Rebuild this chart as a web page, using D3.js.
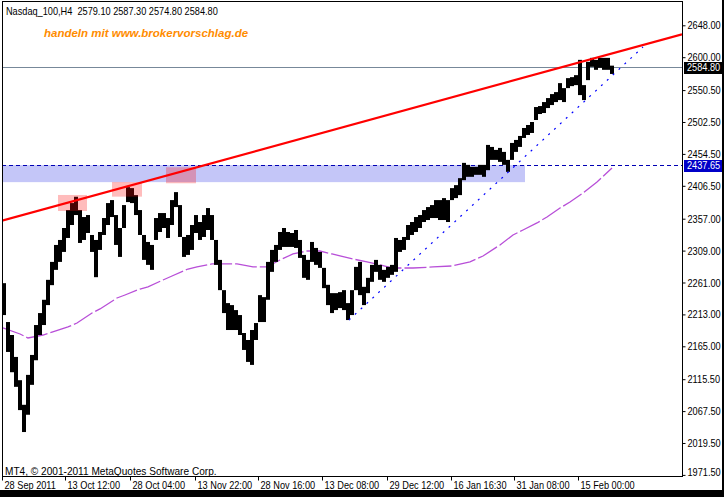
<!DOCTYPE html>
<html><head><meta charset="utf-8">
<script src="https://cdn.jsdelivr.net/npm/d3@7"></script>
<style>
html,body{margin:0;padding:0;background:#fff;overflow:hidden;}
svg{display:block;}
</style></head><body>
<svg id="c" width="724" height="497"></svg>
<script>
// ---------- data ----------
const titleText = "Nasdaq_100,H4  2579.10 2587.30 2574.80 2584.80";
const watermark = "handeln mit www.brokervorschlag.de";
const copyright = "MT4, \u00A9 2001-2011 MetaQuotes Software Corp.";

// sampled H4 bars (every 4th bar), highs and lows
const highs = [2260,2201.5,2182,2149,2114,2077,2122,2152,2197,2215,2235,2265,2292,2317.5,2325,2343,2370,2380.5,2390,2370,
2359.5,2362.5,2332.5,2325,2337,2358,2380.5,2385,2362.5,2343,2377.5,2404.5,2403,2392.5,2370,2332.5,2322,2317.5,2358,2365.5,
2365.5,2358,2385,2397,2377.5,2329.5,2332.5,2347.5,2362.5,2352,2362.5,2373,2362.5,2325,2295,2249.5,2230,2227,2219.5,2212,
2185,2174.5,2189.5,2200,2242,2239,2292,2310,2317.5,2337,2343,2337,2335.5,2340,2325,2302.5,2295,2322,2313,2307,
2283,2257.5,2245,2245,2246.5,2249.5,2230,2249.5,2284.5,2292,2254.5,2268,2287.5,2295,2287.5,2280,2284.5,2287.5,2328,2325,
2329.5,2347.5,2352,2359.5,2362.5,2370,2374.5,2377.5,2385,2385,2388,2385,2403,2407.5,2418,2441,2438,2435,2435,2438,
2438,2468,2465,2460.5,2463.5,2457.5,2445.5,2471,2475.5,2481.5,2493.5,2498,2502.5,2525,2526.5,2532.5,2538.5,2544.5,2547.5,2561,
2553.5,2568.5,2570,2573,2596,2558,2593,2599,2596,2599,2599,2599,2587.3];
const lows = [2212,2156.5,2126,2104,2069,2036,2062,2107,2144,2182,2197,2227,2257,2280,2292,2307,2328,2347.5,2362.5,2320.5,
2325,2335.5,2307,2269,2310,2332.5,2347.5,2359.5,2317.5,2299.5,2343,2382,2380.5,2362.5,2332.5,2295,2287.5,2280,2325,2337,
2343,2328,2347.5,2374.5,2329.5,2299.5,2302.5,2310,2335.5,2325,2329.5,2340,2325,2287.5,2249.5,2215,2189.5,2189.5,2189.5,2182,
2159.5,2141.5,2137,2174.5,2201.5,2201.5,2235,2277,2292,2310,2314.5,2314.5,2314.5,2313,2298,2268,2265,2292,2287.5,2283,
2252.5,2227,2215,2219.5,2222.5,2219.5,2204.5,2212,2249.5,2242,2227,2245,2262,2277,2265,2262,2268,2272.5,2277,2307,
2310,2325,2332.5,2337,2343,2352,2355,2358,2358,2355,2355,2352,2385,2388,2392.5,2415,2420,2420,2423,2423,
2420,2430,2445.5,2445.5,2442.5,2438,2427.5,2445.5,2457.5,2465,2478.5,2483,2486,2505.5,2514.5,2516,2523.5,2528,2532.5,2535.5,
2532.5,2553.5,2556.5,2558,2543,2535.5,2565.5,2585.5,2581,2584,2581,2581,2574.8];
const barFirst = 2, barStep = 4;   // bar index of first sample, bars between samples

// moving average (bar index, value)
const maBars = [1,18,26,41,50,66,75,90,98,115,123,138,146,161,170,186,195,210,235,251,265,278,291,305,318,330,338,351,365,378,
391,411,431,450,468,481,498,511,521,535,545,558,568,581,595,610];
const maVals = [2192.6,2183.5,2177.5,2182,2186.5,2194.1,2200.1,2215.1,2221.2,2237.7,2242.2,2251.2,2254.3,2264.8,2270.8,2281.3,2284.4,2288.9,2288.9,2284.4,
2284.4,2294.9,2303.9,2308.4,2308.4,2303.9,2300.9,2296.4,2291.9,2287.4,2282.8,2282.8,2284.4,2285.9,2291.9,2300.9,2317.5,2332.5,2340,2350.6,
2359.6,2373.1,2382.1,2395.7,2412.2,2433.3];

const yTicks = [2648, 2600, 2550.5, 2502.5, 2454.5, 2406.5, 2357, 2309, 2261, 2213, 2165, 2115.5, 2067.5, 2019.5, 1971.5];
const xTickBars = [0, 63, 128, 193, 256, 320, 385, 449, 512, 576];
const xTickLabels = ["28 Sep 2011","13 Oct 12:00","28 Oct 04:00","13 Nov 22:00","28 Nov 16:00","13 Dec 08:00","29 Dec 12:00","16 Jan 16:30","31 Jan 08:00","15 Feb 00:00"];

const lastPrice = 2584.80;
const levelPrice = 2437.65;
const zone = {b0: 0, b1: 523, top: 2437.65, bottom: 2412};
const resistance = [[0, 2354], [680, 2634.5]];
const support = [[347, 2204.6], [641, 2615.4]];
const boxes = [
  {b0: 56, b1: 85, top: 2392.7, bottom: 2368.6},
  {b0: 110, b1: 140, top: 2412.2, bottom: 2390.2},
  {b0: 164, b1: 194, top: 2434.4, bottom: 2410.3}
];

// ---------- drawing ----------
const FONT = "'Liberation Sans',Arial,sans-serif";
const SX = 0.835;   // horizontal condensing to mimic the narrow terminal font
const svg = d3.select("#c");
const L = 2, R = 682, T = 1, B = 476;
const x = d3.scaleLinear().domain([0, 680]).range([L, R]);
const y = d3.scaleLinear().domain([1971.5, 2648]).range([474.9, 25.3]);

svg.append("rect").attr("width", 724).attr("height", 497).attr("fill", "#fff");
svg.append("defs").append("clipPath").attr("id", "clip")
  .append("rect").attr("x", L).attr("y", T).attr("width", R - L).attr("height", B - T);
const plot = svg.append("g").attr("clip-path", "url(#clip)");

// support/resistance zone
plot.append("rect")
  .attr("x", x(zone.b0)).attr("width", x(zone.b1) - x(zone.b0))
  .attr("y", y(zone.top)).attr("height", y(zone.bottom) - y(zone.top))
  .attr("fill", "#c4c6f8");

// bid line
plot.append("line").attr("x1", L).attr("x2", R)
  .attr("y1", Math.round(y(lastPrice)) + 0.5).attr("y2", Math.round(y(lastPrice)) + 0.5)
  .attr("stroke", "#778899").attr("stroke-width", 1);
// level line
plot.append("line").attr("x1", L).attr("x2", R)
  .attr("y1", Math.round(y(levelPrice)) + 0.5).attr("y2", Math.round(y(levelPrice)) + 0.5)
  .attr("stroke", "#0000b4").attr("stroke-width", 1).attr("stroke-dasharray", "4,3");

// moving average
const maData = maBars.map((b, i) => [b, maVals[i]]);
plot.append("path").datum(maData)
  .attr("d", d3.line().x(d => x(d[0])).y(d => y(d[1])))
  .attr("fill", "none").attr("stroke", "#b84fd8").attr("stroke-width", 1.3)
  .attr("stroke-dasharray", "22,3");

// price bars
const bars = highs.map((h, i) => ({b: barFirst + i * barStep, h, l: lows[i]}));
plot.append("g").selectAll("rect").data(bars).join("rect")
  .attr("x", d => x(d.b - barStep / 2))
  .attr("width", x(barStep) - x(0))
  .attr("y", d => y(d.h))
  .attr("height", d => Math.max(1, y(d.l) - y(d.h)))
  .attr("fill", "#000");

// highlight boxes
plot.append("g").selectAll("rect").data(boxes).join("rect")
  .attr("x", d => x(d.b0)).attr("width", d => x(d.b1) - x(d.b0))
  .attr("y", d => y(d.top)).attr("height", d => y(d.bottom) - y(d.top))
  .attr("fill", "#ff1010").attr("fill-opacity", 0.28);

// trend lines
plot.append("line")
  .attr("x1", x(resistance[0][0])).attr("y1", y(resistance[0][1]))
  .attr("x2", x(resistance[1][0])).attr("y2", y(resistance[1][1]))
  .attr("stroke", "#ff0000").attr("stroke-width", 2.2);
plot.append("line")
  .attr("x1", x(support[0][0])).attr("y1", y(support[0][1]))
  .attr("x2", x(support[1][0])).attr("y2", y(support[1][1]))
  .attr("stroke", "#0000ff").attr("stroke-width", 1.2).attr("stroke-dasharray", "2,6");

// texts inside plot
svg.append("text").attr("x", 6 / SX).attr("y", 15).attr("transform", `scale(${SX},1)`)
  .text(titleText).style("white-space", "pre")
  .attr("font-family", FONT).attr("font-size", 11).attr("fill", "#000");
svg.append("text").attr("x", 44).attr("y", 37).text(watermark)
  .attr("font-family", FONT).attr("font-size", 11.5)
  .attr("font-weight", "bold").attr("font-style", "italic").attr("fill", "#ff8c00");
svg.append("text").attr("x", 5 / 0.92).attr("y", 475).attr("transform", "scale(0.92,1)").text(copyright)
  .attr("font-family", FONT).attr("font-size", 11).attr("fill", "#000");

// frame
svg.append("rect").attr("x", L + 0.5).attr("y", T + 0.5).attr("width", R - L).attr("height", B - T)
  .attr("fill", "none").attr("stroke", "#000");

// y axis
const ya = svg.append("g").attr("transform", `translate(${R + 0.5},0)`)
  .call(d3.axisRight(y).tickValues(yTicks).tickSize(3).tickPadding(2).tickFormat(d3.format(".2f")));
ya.select(".domain").remove();
ya.selectAll("line").attr("stroke", "#000");
ya.selectAll("text").attr("font-family", FONT).attr("font-size", 11).attr("fill", "#000")
  .attr("transform", `scale(${SX},1)`).attr("x", 5 / SX)
  .attr("dy", d => d === 1971.5 ? "0.05em" : "0.32em");

// x axis
const xa = svg.append("g").attr("transform", `translate(0,${B + 0.5})`)
  .call(d3.axisBottom(x).tickValues(xTickBars).tickSize(4).tickFormat((d, i) => xTickLabels[i]));
xa.select(".domain").remove();
xa.selectAll("line").attr("stroke", "#000");
xa.selectAll("text").attr("font-family", FONT).attr("font-size", 11).attr("fill", "#000")
  .attr("text-anchor", "start").attr("transform", `scale(${SX},1)`)
  .attr("x", 2 / SX).attr("y", 13).attr("dy", 0);

// price labels on axis
function priceLabel(v, bg) {
  const yy = y(v);
  svg.append("rect").attr("x", R + 2).attr("y", Math.round(yy) - 5).attr("width", 722 - R - 2).attr("height", 12).attr("fill", bg);
  svg.append("text").attr("x", (R + 5) / SX).attr("y", yy).attr("dy", "0.38em")
    .attr("transform", `scale(${SX},1)`).text(d3.format(".2f")(v))
    .attr("font-family", FONT).attr("font-size", 11).attr("fill", "#fff");
}
priceLabel(lastPrice, "#000");
priceLabel(levelPrice, "#0000c8");

// window border
svg.append("rect").attr("x", 722).attr("y", 0).attr("width", 2).attr("height", 497).attr("fill", "#000");
svg.append("rect").attr("x", 0).attr("y", 490).attr("width", 724).attr("height", 7).attr("fill", "#000");
</script>
</body></html>
